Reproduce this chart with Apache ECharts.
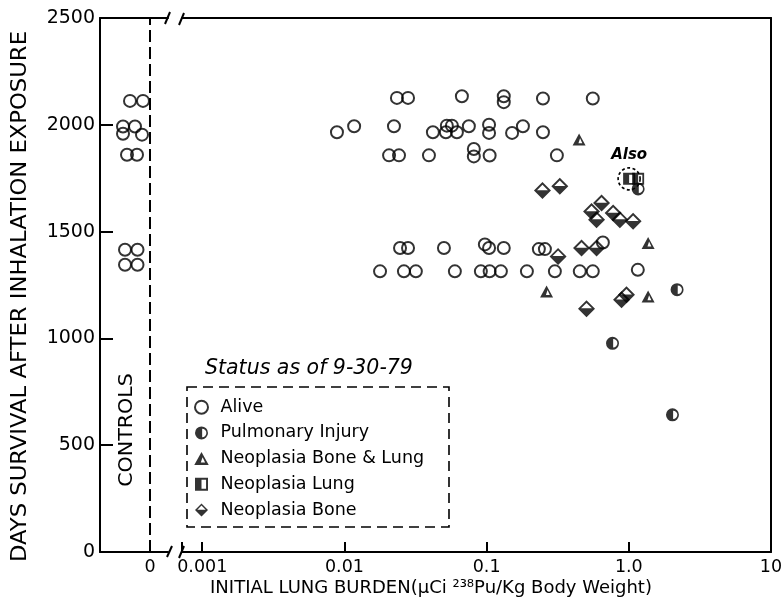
<!DOCTYPE html>
<html>
<head>
<meta charset="utf-8">
<script src="https://cdn.jsdelivr.net/npm/echarts@6/dist/echarts.min.js"></script>
<style>
  html, body { margin: 0; padding: 0; background: #fff; }
  #chart { width: 781px; height: 602px; }
</style>
</head>
<body>
<div id="chart"></div>
<script>
// Days survival after inhalation exposure vs. initial 238Pu lung burden (status as of 9-30-79)

// Y axis ticks (days)
const dayTicks = [0, 500, 1000, 1500, 2000, 2500];
// Decade ticks of the burden axis and their printed labels
const doseTicks = [0.001, 0.01, 0.1, 1, 10];
const doseTickLabels = ['0.001', '0.01', '0.1', '1.0', '10'];

// Controls (zero burden): horizontal spread inside the controls strip, and survival days
const controlSpread = [-2.0, -0.7, -2.7, -1.5, -2.7, -0.8, -2.3, -1.3, -2.5, -1.25, -2.5, -1.25];
const controlDays   = [2112, 2112, 1992, 1992, 1958, 1954, 1860, 1860, 1415, 1415, 1345, 1345];

// Alive
const aliveDose = [
  0.0234, 0.0280, 0.0670, 0.132, 0.132, 0.249, 0.558,
  0.00886, 0.0117, 0.0223, 0.0419, 0.0525, 0.0570, 0.0517, 0.0618, 0.0750, 0.104, 0.104, 0.151, 0.180, 0.249,
  0.0206, 0.0242, 0.0393, 0.0813, 0.0813, 0.105, 0.312,
  0.0246, 0.0280, 0.0501, 0.0972, 0.104, 0.132, 0.233, 0.257, 0.657,
  0.0178, 0.0262, 0.0318, 0.0598, 0.0911, 0.105, 0.126, 0.192, 0.302, 0.452, 0.558, 1.157
];
const aliveDays = [
  2126, 2126, 2134, 2134, 2106, 2123, 2123,
  1965, 1993, 1993, 1965, 1996, 1996, 1965, 1965, 1993, 2000, 1962, 1962, 1993, 1965,
  1857, 1857, 1857, 1887, 1852, 1856, 1857,
  1423, 1423, 1423, 1440, 1423, 1423, 1418, 1418, 1449,
  1314, 1314, 1314, 1314, 1314, 1314, 1314, 1314, 1314, 1314, 1314, 1321
];

// Pulmonary injury
const pulmDose = [1.163, 2.185, 0.768, 2.028];
const pulmDays = [1700, 1228, 977, 642];

// Neoplasia bone & lung
const boneLungDose = [0.447, 1.367, 0.264, 1.367];
const boneLungDays = [1931, 1447, 1220, 1196];

// Neoplasia lung (first one is ringed and marked "Also")
const lungDose = [1.005, 1.163];
const lungDays = [1747, 1747];

// Neoplasia bone
const boneDose = [0.247, 0.327, 0.547, 0.643, 0.593, 0.776, 0.865, 1.072, 0.318, 0.465, 0.593, 0.504, 0.963, 0.889];
const boneDays = [1692, 1712, 1594, 1634, 1556, 1587, 1556, 1548, 1384, 1423, 1423, 1139, 1204, 1181];

const zip = (xs, ys) => xs.map((x, i) => [x, ys[i]]);

// Half-filled outline glyphs (holes use opposite winding)
const SYM_PULM = 'path://M10 0A10 10 0 1 1 10 20A10 10 0 1 1 10 0ZM11 3.5L11 16.5A6.5 6.5 0 0 0 11 3.5Z';
const SYM_TRI  = 'path://M10 0L20 18L0 18ZM11.5 7L9 14.5L15 14.5Z';
const SYM_SQR  = 'path://M0 0L20 0L20 20L0 20ZM10 3L10 17L17 17L17 3Z';
const SYM_DIA  = 'path://M10 0L20 10L10 20L0 10ZM10 3.2L3.6 9.6L16.4 9.6Z';

const FONT = 'DejaVu Sans';
const INK = '#000';

// Burden axis starts just right of the axis break
const doseMin = Math.pow(10, -3.1424);

const isDecade = v => doseTicks.findIndex(t => Math.abs(Math.log10(v / t)) < 1e-6);

const chart = echarts.init(document.getElementById('chart'), null, { renderer: 'canvas' });

const lineAxis = { show: true, onZero: false, lineStyle: { color: INK, width: 2 } };
const noSplit = { show: false };

const aliveStyle = { color: 'rgba(0,0,0,0)', borderColor: INK, borderWidth: 2 };

chart.setOption({
  animation: false,
  backgroundColor: '#fff',
  grid: [
    { left: 100, top: 18, width: 68, height: 534, outerBoundsMode: 'none' },
    { left: 182, top: 18, width: 589, height: 534, outerBoundsMode: 'none' }
  ],
  xAxis: [
    {
      gridIndex: 0, type: 'value', position: 'bottom', min: -5, max: 1.8,
      axisLine: lineAxis,
      axisTick: { show: true, inside: true, length: 10, customValues: [0], lineStyle: { color: INK, width: 2 } },
      axisLabel: { show: true, customValues: [0], margin: 6, color: INK, fontFamily: FONT, fontSize: 17.5,
        formatter: v => (v === 0 ? '0' : '') },
      splitLine: noSplit
    },
    {
      gridIndex: 1, type: 'log', logBase: 10, position: 'bottom', min: doseMin, max: 10,
      axisLine: lineAxis,
      axisTick: { show: true, inside: true, length: 10, lineStyle: { color: INK, width: 2 } },
      axisLabel: { show: true, margin: 6, color: INK, fontFamily: FONT, fontSize: 17.5,
        formatter: v => { const i = isDecade(v); return i >= 0 ? doseTickLabels[i] : ''; } },
      splitLine: noSplit, minorTick: { show: false }, minorSplitLine: { show: false }
    },
    {
      gridIndex: 0, type: 'value', position: 'top', min: -5, max: 1.8,
      axisLine: lineAxis, axisTick: { show: false }, axisLabel: { show: false }, splitLine: noSplit
    },
    {
      gridIndex: 1, type: 'log', position: 'top', min: doseMin, max: 10,
      axisLine: lineAxis, axisTick: { show: false }, axisLabel: { show: false }, splitLine: noSplit
    }
  ],
  yAxis: [
    {
      gridIndex: 0, type: 'value', position: 'left', min: dayTicks[0], max: dayTicks[dayTicks.length - 1], interval: 500,
      axisLine: lineAxis,
      axisTick: { show: true, inside: true, length: 13, lineStyle: { color: INK, width: 2 } },
      axisLabel: { show: true, margin: 5, color: INK, fontFamily: FONT, fontSize: 19, formatter: v => String(v) },
      splitLine: noSplit
    },
    {
      gridIndex: 1, type: 'value', position: 'right', min: dayTicks[0], max: dayTicks[dayTicks.length - 1],
      axisLine: lineAxis, axisTick: { show: false }, axisLabel: { show: false }, splitLine: noSplit
    }
  ],
  legend: {
    orient: 'vertical',
    left: 194, top: 387,
    data: ['Alive', 'Pulmonary Injury', 'Neoplasia Bone & Lung', 'Neoplasia Lung', 'Neoplasia Bone'],
    itemWidth: 28, itemHeight: 13, itemGap: 7.7,
    padding: [11.2, 0, 10.4, 0],
    selectedMode: false,
    textStyle: { color: INK, fontFamily: FONT, fontSize: 17.5 }
  },
  series: [
    {
      name: 'Alive', type: 'scatter', xAxisIndex: 0, yAxisIndex: 0,
      data: zip(controlSpread, controlDays),
      symbol: 'circle', symbolSize: 12, itemStyle: aliveStyle,
      emphasis: { disabled: true },
      markLine: {
        silent: true, symbol: ['none', 'none'], label: { show: false },
        lineStyle: { color: INK, width: 2, type: [12, 5] },
        emphasis: { disabled: true },
        data: [{ xAxis: 0 }]
      }
    },
    {
      name: 'Alive', type: 'scatter', xAxisIndex: 1, yAxisIndex: 1,
      data: zip(aliveDose, aliveDays),
      symbol: 'circle', symbolSize: 12, itemStyle: aliveStyle,
      emphasis: { disabled: true }
    },
    {
      name: 'Pulmonary Injury', type: 'scatter', xAxisIndex: 1, yAxisIndex: 1,
      data: zip(pulmDose, pulmDays),
      symbol: SYM_PULM, symbolSize: 13, itemStyle: { color: INK },
      emphasis: { disabled: true }
    },
    {
      name: 'Neoplasia Bone & Lung', type: 'scatter', xAxisIndex: 1, yAxisIndex: 1,
      data: zip(boneLungDose, boneLungDays),
      symbol: SYM_TRI, symbolSize: [13, 12], itemStyle: { color: INK },
      emphasis: { disabled: true }
    },
    {
      name: 'Neoplasia Lung', type: 'scatter', xAxisIndex: 1, yAxisIndex: 1,
      data: zip(lungDose, lungDays),
      symbol: SYM_SQR, symbolSize: 12, itemStyle: { color: INK },
      emphasis: { disabled: true },
      markPoint: {
        silent: true,
        data: [{
          coord: [lungDose[0], lungDays[0]],
          symbol: 'circle', symbolSize: 22,
          itemStyle: { color: 'rgba(0,0,0,0)', borderColor: INK, borderWidth: 1.6, borderType: [3, 2.5] },
          label: {
            show: true, position: 'top', distance: 4, formatter: 'Also',
            color: INK, fontFamily: FONT, fontStyle: 'italic', fontWeight: 'bold', fontSize: 15
          }
        }]
      }
    },
    {
      name: 'Neoplasia Bone', type: 'scatter', xAxisIndex: 1, yAxisIndex: 1,
      data: zip(boneDose, boneDays),
      symbol: SYM_DIA, symbolSize: 17, itemStyle: { color: INK },
      emphasis: { disabled: true }
    }
  ],
  graphic: [
    {
      type: 'text', x: 20.5, y: 296.5, rotation: Math.PI / 2, scaleX: 1.08,
      style: { text: 'DAYS SURVIVAL AFTER INHALATION EXPOSURE', fill: INK, fontFamily: FONT, fontSize: 21,
        align: 'center', verticalAlign: 'middle' }
    },
    {
      type: 'text', x: 431, y: 588,
      style: { text: 'INITIAL LUNG BURDEN(µCi ²³⁸Pu/Kg Body Weight)', fill: INK, fontFamily: FONT, fontSize: 18,
        align: 'center', verticalAlign: 'middle' }
    },
    {
      type: 'text', x: 127, y: 430, rotation: Math.PI / 2, scaleX: 1.03,
      style: { text: 'CONTROLS', fill: INK, fontFamily: FONT, fontSize: 20, align: 'center', verticalAlign: 'middle' }
    },
    {
      type: 'text', x: 205, y: 369,
      style: { text: 'Status as of 9-30-79', fill: INK, fontFamily: FONT, fontStyle: 'italic', fontSize: 20.5,
        align: 'left', verticalAlign: 'middle' }
    },
    // dashed frame around the legend
    {
      type: 'rect', shape: { x: 187, y: 387, width: 262, height: 140 }, silent: true,
      style: { fill: 'none', stroke: INK, lineWidth: 1.6, lineDash: [10, 6] }
    },
    // axis break marks
    { type: 'line', shape: { x1: 165, y1: 24, x2: 170, y2: 12 }, style: { stroke: INK, lineWidth: 2 } },
    { type: 'line', shape: { x1: 179, y1: 25, x2: 184, y2: 13 }, style: { stroke: INK, lineWidth: 2 } },
    { type: 'line', shape: { x1: 167, y1: 557, x2: 172, y2: 546 }, style: { stroke: INK, lineWidth: 2 } },
    { type: 'line', shape: { x1: 179, y1: 558, x2: 184, y2: 546 }, style: { stroke: INK, lineWidth: 2 } }
  ]
});
</script>
</body>
</html>
